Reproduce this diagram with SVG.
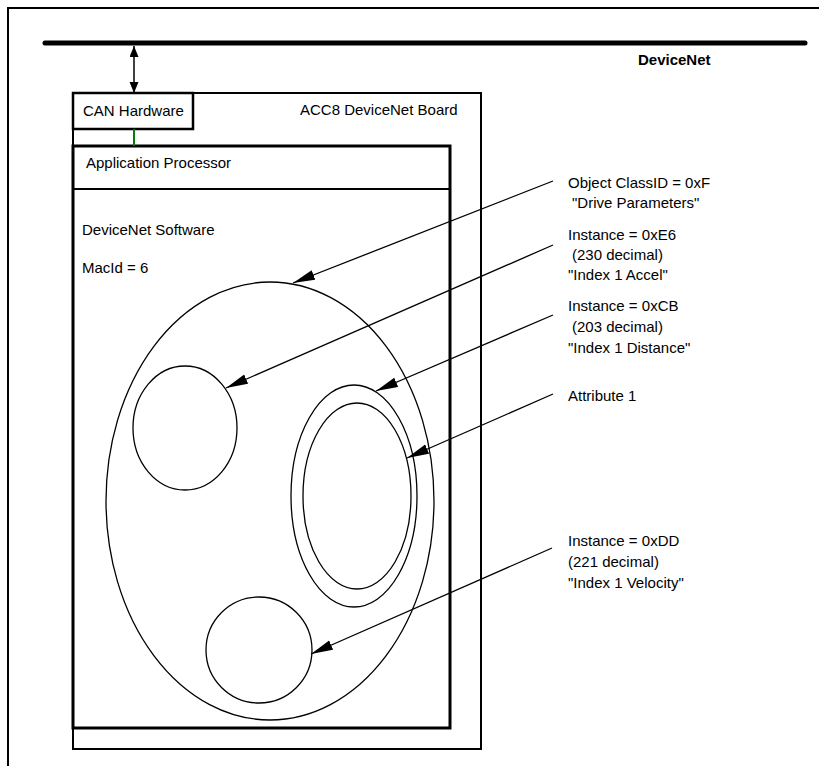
<svg xmlns="http://www.w3.org/2000/svg" width="819" height="766" viewBox="0 0 819 766">
<style>
text{font-family:"Liberation Sans",Arial,sans-serif;font-size:15px;fill:#000}
.b{font-weight:bold}
.box{fill:none;stroke:#000}
.ell{fill:none;stroke:#000;stroke-width:1.3}
.ln{stroke:#000;stroke-width:1.3;fill:none}
</style>
<defs>
<marker id="ah" markerUnits="userSpaceOnUse" markerWidth="24" markerHeight="12" refX="22" refY="5" orient="auto">
<path d="M0,0 L22,5 L0,10 z" fill="#000"/>
</marker>
<marker id="dh" markerUnits="userSpaceOnUse" markerWidth="12" markerHeight="10" refX="11" refY="4.5" orient="auto-start-reverse">
<path d="M0,0 L11,4.5 L0,9 z" fill="#000"/>
</marker>
</defs>
<g id="frame">
<path d="M8,766 V8 H819" fill="none" stroke="#000" stroke-width="2"/>
</g>
<g id="devicenet-bus">
<line x1="45" y1="43" x2="805" y2="43" stroke="#000" stroke-width="5" stroke-linecap="round"/>
<text class="b" x="638" y="65">DeviceNet</text>
</g>
<g id="board">
<rect class="box" x="73" y="93" width="408" height="656" stroke-width="2"/>
<text x="300" y="115">ACC8 DeviceNet Board</text>
</g>
<g id="can-hardware">
<rect x="73" y="93" width="120" height="36" fill="#fff" stroke="#000" stroke-width="2.5"/>
<text x="83" y="116">CAN Hardware</text>
</g>
<g id="application-processor">
<rect class="box" x="73" y="146" width="377" height="582" stroke-width="3"/>
<line x1="73" y1="189" x2="450" y2="189" stroke="#000" stroke-width="2"/>
<text x="86" y="168">Application Processor</text>
<text x="82" y="235">DeviceNet Software</text>
<text x="82" y="273">MacId = 6</text>
</g>
<g id="class-object">
<ellipse class="ell" cx="270" cy="501" rx="164" ry="219"/>
</g>
<g id="instance-e6">
<ellipse class="ell" cx="185" cy="428" rx="52" ry="62"/>
</g>
<g id="instance-cb">
<ellipse class="ell" cx="354" cy="496" rx="63" ry="111"/>
<ellipse class="ell" cx="357" cy="496" rx="54" ry="93"/>
</g>
<g id="instance-dd">
<ellipse class="ell" cx="259" cy="650" rx="53" ry="53"/>
</g>
<g id="labels">
<text x="568" y="188">Object ClassID = 0xF</text>
<text x="572" y="208">"Drive Parameters"</text>
<text x="568" y="240">Instance = 0xE6</text>
<text x="572" y="260">(230 decimal)</text>
<text x="568" y="280">"Index 1 Accel"</text>
<text x="568" y="311">Instance = 0xCB</text>
<text x="572" y="332">(203 decimal)</text>
<text x="568" y="353">"Index 1 Distance"</text>
<text x="568" y="401">Attribute 1</text>
<text x="568" y="546">Instance = 0xDD</text>
<text x="568" y="567">(221 decimal)</text>
<text x="568" y="588">"Index 1 Velocity"</text>
</g>
<g id="connectors">
<line x1="134" y1="46" x2="134" y2="93" stroke="#000" stroke-width="1.5" marker-start="url(#dh)" marker-end="url(#dh)"/>
<line x1="134" y1="129" x2="134" y2="146" stroke="#008000" stroke-width="2"/>
<line class="ln" x1="553" y1="181" x2="293" y2="283" marker-end="url(#ah)"/>
<line class="ln" x1="553" y1="245" x2="226" y2="388" marker-end="url(#ah)"/>
<line class="ln" x1="553" y1="315" x2="376" y2="391" marker-end="url(#ah)"/>
<line class="ln" x1="553" y1="394" x2="407" y2="458" marker-end="url(#ah)"/>
<line class="ln" x1="552" y1="548" x2="311" y2="654" marker-end="url(#ah)"/>
</g>
</svg>
